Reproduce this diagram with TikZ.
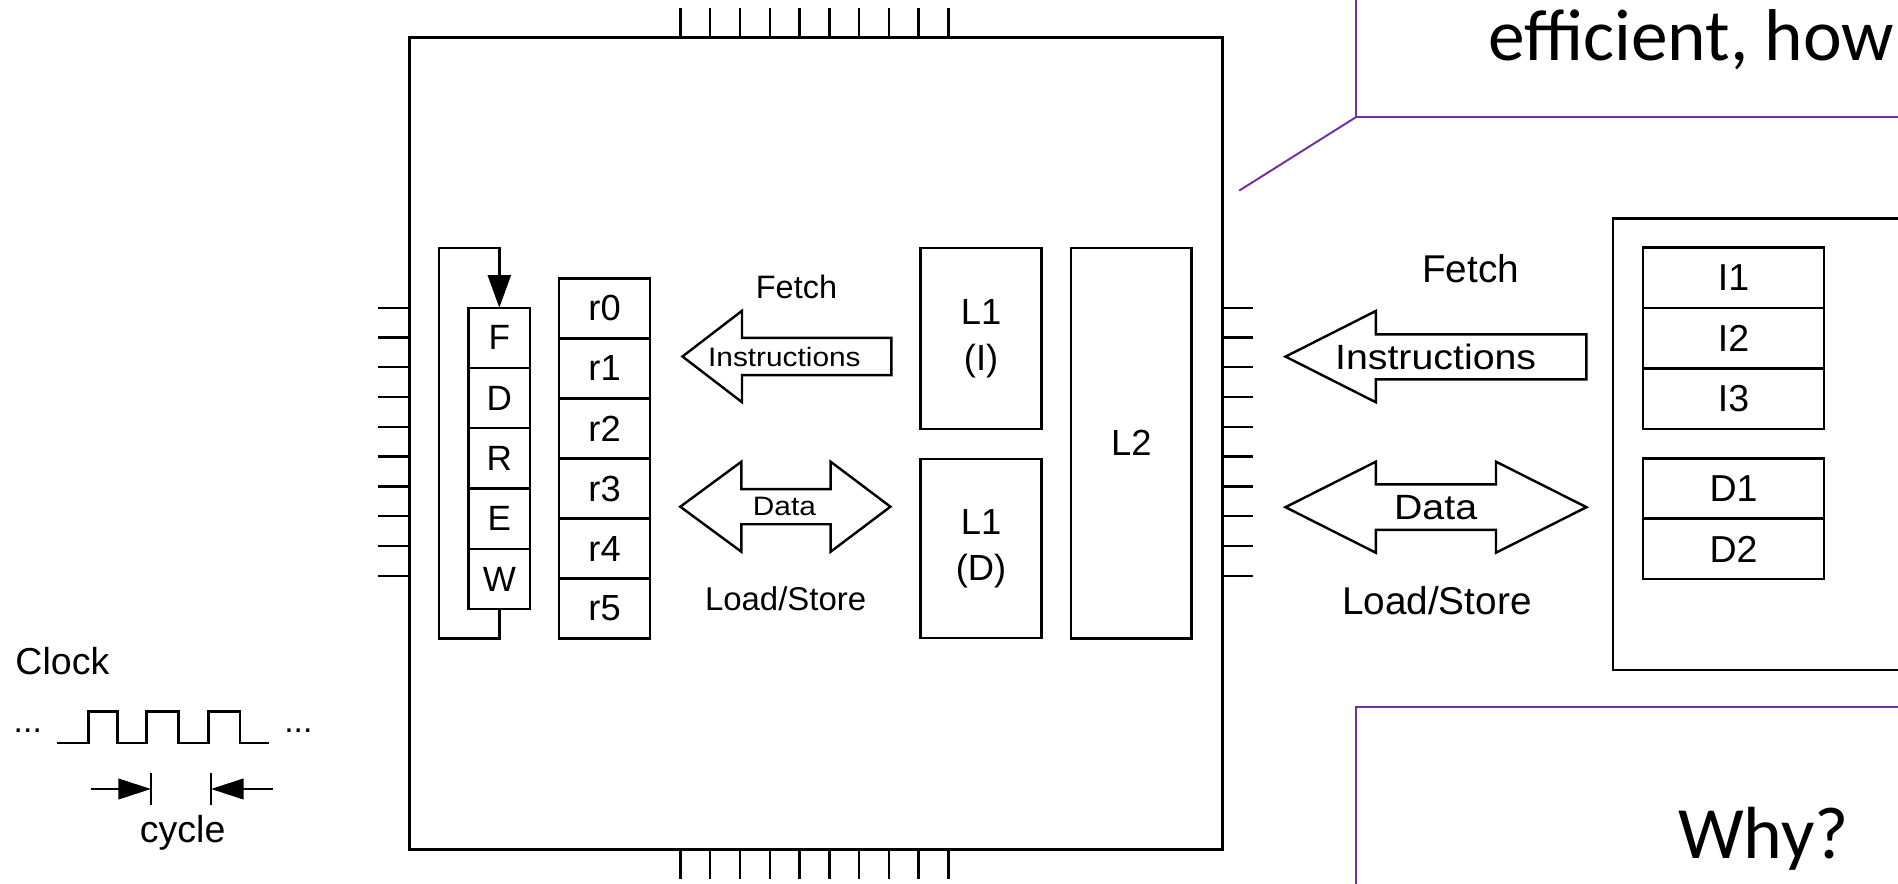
\documentclass[tikz,border=0pt]{standalone}
\usepackage{fontspec}
\setmainfont{Liberation Sans}
\newfontfamily\calib{Carlito}
\usetikzlibrary{arrows.meta}
\definecolor{slidepurple}{HTML}{7030A0}
\newcommand{\fsz}[1]{\fontsize{#1}{1.2\dimexpr #1pt\relax}\selectfont}
\newcommand{\hstretch}[2]{\scalebox{#1}[1]{#2}}
\begin{document}
\begin{tikzpicture}[x=0.5pt,y=-0.5pt,
  thinline/.style={line width=1pt},
  blk/.style={draw, line width=1pt, inner sep=0pt, outer sep=0pt, anchor=north west},
  stagebox/.style={blk, minimum width=25.5pt, minimum height=24.9pt, font=\fsz{14.5}},
  regbox/.style={blk, minimum width=37.5pt, minimum height=24.8pt, font=\fsz{15}},
  cachebox/.style={blk, minimum width=50pt, align=center, font=\fontsize{15}{19}\selectfont},
  membox/.style={blk, minimum width=74.85pt, minimum height=24.95pt, font=\fsz{15.5}},
  pin/.style={line width=1pt},
  blockarrow/.style={draw, line width=1pt, line join=miter, fill=white},
  lbl/.style={inner sep=0pt},
  purp/.style={draw=slidepurple, line width=0.8pt},
  tri/.style={-{Triangle[length=13.5pt,width=9.5pt]}},
]
\path[use as bounding box] (0,0) rectangle (1568,730);
\clip (0,0) rectangle (1568,730);
\fill[white] (0,0) rectangle (1568,730);

% chip
\node[blk, line width=1.3pt, minimum width=336pt, minimum height=335.5pt] (chip) at (338,31) {};
\foreach \i in {0,...,9}{
  \draw[pin] ({562.1+24.6*\i},7) -- ({562.1+24.6*\i},31);
  \draw[pin] ({562.1+24.6*\i},702) -- ({562.1+24.6*\i},726);
  \draw[pin] (312,{254.2+24.6*\i}) -- (338,{254.2+24.6*\i});
  \draw[pin] (1010,{254.2+24.6*\i}) -- (1035,{254.2+24.6*\i});
}

% pipeline stages
\node[stagebox] (F) at (387,254.2) {F};
\node[stagebox, anchor=north] (D) at (F.south) {D};
\node[stagebox, anchor=north] (R) at (D.south) {R};
\node[stagebox, anchor=north] (E) at (R.south) {E};
\node[stagebox, anchor=north] (W) at (E.south) {W};
\draw[thinline, tri] (W.south) -- (412.5,527.3) -| (362.6,205.1) -| (F.north);

% registers
\node[regbox] (r0) at (462,230) {r0};
\node[regbox, anchor=north] (r1) at (r0.south) {r1};
\node[regbox, anchor=north] (r2) at (r1.south) {r2};
\node[regbox, anchor=north] (r3) at (r2.south) {r3};
\node[regbox, anchor=north] (r4) at (r3.south) {r4};
\node[regbox, anchor=north] (r5) at (r4.south) {r5};

% caches
\node[cachebox, minimum height=74.65pt] (L1I) at (760.5,205.1) {L1\\(I)};
\node[cachebox, minimum height=74pt] (L1D) at (760.5,379.2) {L1\\(D)};
\node[cachebox, minimum width=49.7pt, minimum height=161.1pt] (L2) at (885,205.1) {L2};

% left block arrows
\draw[blockarrow] (563.8,294.5) -- (613,256.75) -- (613,279.1) -- (736.4,279.1) -- (736.4,309.9) -- (613,309.9) -- (613,332.25) -- cycle;
\draw[blockarrow] (562,418.6) -- (612.5,381.4) -- (612.5,404.1) -- (686.2,404.1) -- (686.2,381.4) -- (735.6,418.6) -- (686.2,455.8) -- (686.2,433.1) -- (612.5,433.1) -- (612.5,455.8) -- cycle;
\node[lbl, font=\fsz{13.4}] (fetchL) at (658,237) {Fetch};
\node[lbl, font=\fsz{11}] (instrL) at (648,294.5) {\hstretch{1.12}{Instructions}};
\node[lbl, font=\fsz{11}] (dataL) at (648,418.6) {\hstretch{1.12}{Data}};
\node[lbl, font=\fsz{13.6}] (lsL) at (649,495) {Load/Store};

% right block arrows
\draw[blockarrow] (1062,294.6) -- (1136.6,256.9) -- (1136.6,276.2) -- (1310.6,276.2) -- (1310.6,313.4) -- (1136.6,313.4) -- (1136.6,332.3) -- cycle;
\draw[blockarrow] (1062,419) -- (1136.6,381.4) -- (1136.6,400.1) -- (1235.9,400.1) -- (1235.9,381.4) -- (1310.6,419) -- (1235.9,456.6) -- (1235.9,437.8) -- (1136.6,437.8) -- (1136.6,456.6) -- cycle;
\node[lbl, font=\fsz{16}] (fetchR) at (1215,222) {Fetch};
\node[lbl, font=\fsz{14.5}] (instrR) at (1186,294.6) {\hstretch{1.12}{Instructions}};
\node[lbl, font=\fsz{14.5}] (dataR) at (1186,419) {\hstretch{1.12}{Data}};
\node[lbl, font=\fsz{16}] (lsR) at (1187,496) {Load/Store};

% memory
\node[blk, minimum width=200pt, minimum height=186.55pt] (mem) at (1332.3,180.4) {};
\node[membox] (I1) at (1357.3,204.6) {I1};
\node[membox, anchor=north] (I2) at (I1.south) {I2};
\node[membox, anchor=north] (I3) at (I2.south) {I3};
\node[membox] (D1) at (1357.3,378.6) {D1};
\node[membox, anchor=north] (D2) at (D1.south) {D2};

% purple callouts
\draw[purp] (1120,-5) -- (1120,96.9) -- (1580,96.9);
\coordinate (callA) at (1120,96.9);
\coordinate (callB) at (1023.7,157.5);
\draw[purp] (callA) -- (callB);
\node[anchor=base west, inner sep=0pt, font=\calib\fontsize{30.3}{36}\selectfont] (eff) at (1229,50) {efficient, how};
\draw[purp] (1120,740) -- (1120,584.3) -- (1580,584.3);
\node[anchor=base west, inner sep=0pt, font=\calib\fontsize{30.5}{36}\selectfont] (why) at (1385.9,709) {Why?};

% clock
\node[anchor=base west, inner sep=0pt, font=\fsz{15.5}] (clk) at (12.4,557.6) {Clock};
\draw[thinline] (47.4,614) -- (73,614) -- (73,587.9) -- (96.9,587.9) -- (96.9,614) -- (121.2,614) -- (121.2,587.9) -- (147.3,587.9) -- (147.3,614) -- (172.1,614) -- (172.1,587.9) -- (198.3,587.9) -- (198.3,614) -- (222.5,614);
\node[anchor=base, inner sep=0pt, font=\fsz{14}] (dotsL) at (23,605) {...};
\node[anchor=base, inner sep=0pt, font=\fsz{14}] (dotsR) at (246.5,605) {...};
\coordinate (barLt) at (124.7,638.8);
\coordinate (barLb) at (124.7,665);
\coordinate (barRt) at (174.3,638.8);
\coordinate (barRb) at (174.3,665);
\draw[thinline] (barLt) -- (barLb);
\draw[thinline] (barRt) -- (barRb);
\coordinate (arrLs) at (74.9,651.8);
\coordinate (arrLe) at (124.7,651.8);
\coordinate (arrRs) at (225.3,651.8);
\coordinate (arrRe) at (174.3,651.8);
\draw[thinline, -{Triangle[length=13.5pt,width=8.5pt]}] (arrLs) -- (arrLe);
\draw[thinline, -{Triangle[length=13.5pt,width=8.5pt]}] (arrRs) -- (arrRe);
\node[inner sep=0pt, font=\fsz{15.5}] (cyc) at (150.9,688) {cycle};
\end{tikzpicture}
\end{document}
